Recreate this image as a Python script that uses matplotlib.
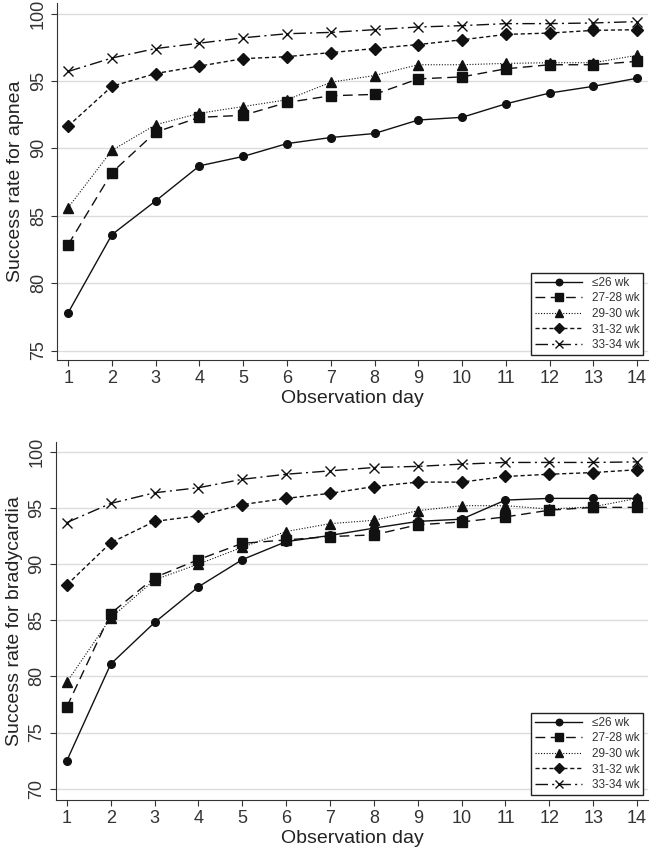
import matplotlib
matplotlib.use("Agg")
import matplotlib.pyplot as plt

plt.rcParams['font.family'] = ['Liberation Sans', 'DejaVu Sans']

days = list(range(1, 15))
groups = ["\u226426 wk", "27-28 wk", "29-30 wk", "31-32 wk", "33-34 wk"]

# success rate for apnea
apnea_26 = [77.8, 83.6, 86.1, 88.7, 89.4, 90.35, 90.8, 91.1, 92.1, 92.3, 93.3, 94.1, 94.6, 95.2]
apnea_28 = [82.85, 88.2, 91.2, 92.3, 92.45, 93.4, 93.9, 94.0, 95.15, 95.3, 95.9, 96.2, 96.2, 96.45]
apnea_30 = [85.6, 89.85, 91.75, 92.6, 93.1, 93.6, 94.9, 95.4, 96.2, 96.2, 96.3, 96.35, 96.35, 96.9]
apnea_32 = [91.65, 94.6, 95.55, 96.1, 96.65, 96.8, 97.1, 97.4, 97.7, 98.05, 98.45, 98.55, 98.75, 98.8]
apnea_34 = [95.7, 96.7, 97.4, 97.8, 98.2, 98.5, 98.6, 98.8, 99.0, 99.1, 99.25, 99.25, 99.3, 99.4]

# success rate for bradycardia
brady_26 = [72.5, 81.1, 84.8, 87.98, 90.4, 92.0, 92.55, 93.2, 93.8, 94.0, 95.7, 95.85, 95.85, 95.85]
brady_28 = [77.3, 85.6, 88.8, 90.4, 91.85, 92.15, 92.45, 92.6, 93.5, 93.75, 94.2, 94.8, 95.05, 95.05]
brady_30 = [79.5, 85.2, 88.6, 90.0, 91.5, 92.9, 93.6, 93.9, 94.75, 95.2, 95.2, 94.9, 95.1, 95.85]
brady_32 = [88.15, 91.9, 93.8, 94.3, 95.3, 95.85, 96.3, 96.9, 97.3, 97.3, 97.8, 98.0, 98.15, 98.4]
brady_34 = [93.7, 95.4, 96.35, 96.8, 97.55, 98.0, 98.3, 98.6, 98.7, 98.9, 99.05, 99.05, 99.05, 99.1]

styles = [
    dict(linestyle='-', marker='o', markersize=5.5, linewidth=1.0),
    dict(linestyle=(0, (7, 4)), marker='s', markersize=6.5, linewidth=1.0),
    dict(linestyle=(0, (1, 1.5)), marker='^', markersize=6.5, linewidth=0.8),
    dict(linestyle=(0, (3, 2)), marker='D', markersize=6.5, linewidth=1.0),
    dict(linestyle=(0, (9, 3, 1.5, 3)), marker='x', markersize=7, linewidth=1.0, markeredgewidth=1.0),
]

fig = plt.figure(figsize=(6.5, 8.51), dpi=100)
ax1 = fig.add_axes([0.088, 0.577, 0.909, 0.419])
ax2 = fig.add_axes([0.086, 0.06, 0.911, 0.421])


def draw(ax, series, ylabel, ylim, yticks):
    for vals, name, st in zip(series, groups, styles):
        ax.plot(days, vals, color='#111111', label=name, **st)
    ax.set_xlim(0.75, 14.25)
    ax.set_ylim(*ylim)
    ax.set_xticks(days)
    ax.set_yticks(yticks)
    ax.yaxis.grid(True, color='#dcdcdc', linewidth=1.0)
    ax.set_axisbelow(True)
    for s in ['top', 'right']:
        ax.spines[s].set_visible(False)
    ax.spines['left'].set_color('#333333')
    ax.spines['bottom'].set_color('#333333')
    ax.tick_params(labelsize=13, length=4, color='#333333', labelcolor='#333333')
    for lab in ax.get_yticklabels():
        lab.set_rotation(90)
        lab.set_va('center')
    ax.set_xlabel("Observation day", fontsize=14, labelpad=2, color='#222222')
    ax.set_ylabel(ylabel, fontsize=14, labelpad=4, color='#222222')
    leg = ax.legend(loc='lower right', fontsize=8.5, handlelength=4.0, numpoints=1,
                    fancybox=False, edgecolor='#222222', framealpha=1,
                    borderaxespad=0.4, labelspacing=0.3, markerscale=0.85,
                    borderpad=0.35, handletextpad=0.8)
    leg.get_frame().set_linewidth(1.0)
    for t in leg.get_texts():
        t.set_color('#333333')


draw(ax1, [apnea_26, apnea_28, apnea_30, apnea_32, apnea_34],
     "Success rate for apnea", (74.3, 100.75), [75, 80, 85, 90, 95, 100])
draw(ax2, [brady_26, brady_28, brady_30, brady_32, brady_34],
     "Success rate for bradycardia", (69.0, 100.9), [70, 75, 80, 85, 90, 95, 100])

fig.savefig("out.png", dpi=100)
